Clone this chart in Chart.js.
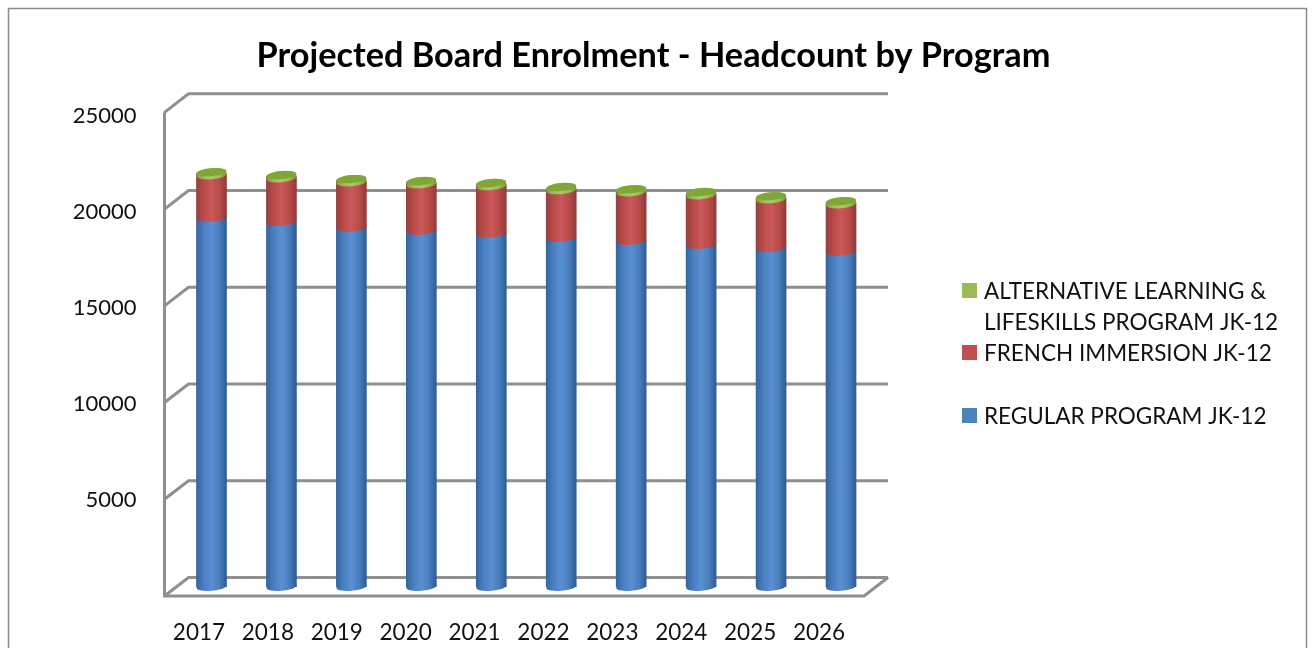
<!DOCTYPE html>
<html>
<head>
<meta charset="utf-8">
<title>Projected Board Enrolment</title>
<script src="https://cdn.jsdelivr.net/npm/chart.js@4"></script>
<style>html,body{margin:0;padding:0;background:#fff;overflow:hidden}canvas{display:block}</style>
</head>
<body>
<canvas id="c" width="1314" height="648"></canvas>
<script>
const categories = ['2017','2018','2019','2020','2021','2022','2023','2024','2025','2026'];
const regularProgram = [19070,18860,18560,18400,18250,18040,17880,17680,17520,17310];
const frenchImmersion = [2200,2260,2350,2410,2460,2460,2510,2560,2510,2460];
const alternativeLearning = [110,110,110,110,110,110,110,110,110,110];
const seriesNames = ['REGULAR PROGRAM JK-12','FRENCH IMMERSION JK-12','ALTERNATIVE LEARNING & LIFESKILLS PROGRAM JK-12'];
const legendLines = [['ALTERNATIVE LEARNING &','LIFESKILLS PROGRAM JK-12'],['FRENCH IMMERSION JK-12'],['REGULAR PROGRAM JK-12']];
const chartTitle = 'Projected Board Enrolment - Headcount by Program';

const FONT = 'Lato, Carlito, sans-serif';
const GRID = '#8f8f8f';
const DEPTH_X = 24, DEPTH_Y = 18.5;
const BAR_W = 30;
const ramps = [
  {flat:'#4F81BD', stops:['#35659f','#4a80c2','#5a90d2','#4a7fbf','#2f5c93']},
  {flat:'#C0504D', stops:['#96403e','#bb4b49','#c9595a','#bc4c4a','#8e3c3a']},
  {flat:'#9BBB59', stops:['#7f9c45','#9cbd57','#aacb64','#9cbd57','#7a9640']}
];

function cylinderFill(i){
  return function(ctx){
    const chart = ctx.chart, sx = chart.scales.x;
    if(!chart.chartArea || !sx || ctx.dataIndex === undefined || ctx.type !== 'data') return ramps[i].flat;
    const cx = sx.getPixelForValue(ctx.dataIndex);
    const g = chart.ctx.createLinearGradient(cx-BAR_W/2,0,cx+BAR_W/2,0);
    const s = ramps[i].stops;
    s.forEach((c,k)=>g.addColorStop(k/(s.length-1),c));
    return g;
  };
}

const wallPlugin = {
  id:'wall',
  beforeDraw(chart){
    const c = chart.ctx;
    c.save();
    c.fillStyle='#fff'; c.fillRect(0,0,chart.width,chart.height);
    c.strokeStyle='#8c8c8c'; c.lineWidth=1.5;
    c.beginPath(); c.moveTo(8.5,chart.height+2); c.lineTo(8.5,8.5); c.lineTo(1306.5,8.5); c.lineTo(1306.5,chart.height+2); c.stroke();
    c.restore();
  },
  afterLayout(chart){
    const t = chart.titleBlock;
    t.left = 0; t.right = 1307;
    const lab = chart.scales.labels;
    lab.left = 164.5; lab.right = 164.5+689;
    lab.configure();
    const yl = chart.scales.yLabels;
    yl.top = 115.5; yl.bottom = 595.5;
    yl.configure();
  },
  beforeDatasetsDraw(chart){
    const c = chart.ctx, {x,y} = chart.scales;
    const l = x.left, r = x.right, t = y.top, b = y.bottom;
    c.save();
    c.strokeStyle = GRID; c.lineWidth = 3; c.lineJoin='miter'; c.lineCap='butt';
    y.ticks.forEach(tk=>{
      const p = y.getPixelForValue(tk.value);
      c.beginPath(); c.moveTo(l,p); c.lineTo(l+DEPTH_X,p-DEPTH_Y); c.lineTo(r+DEPTH_X,p-DEPTH_Y); c.stroke();
    });
    c.beginPath(); c.moveTo(l,t); c.lineTo(l,b); c.lineTo(r,b); c.lineTo(r+DEPTH_X,b-DEPTH_Y); c.stroke();
    c.restore();
    c.save();
    c.translate(DEPTH_X/2,-DEPTH_Y/2);
  },
  afterDatasetsDraw(chart){
    const c = chart.ctx;
    const tilt = -5*Math.PI/180;
    const oval = (el,yy,ry,fill)=>{
      c.fillStyle = fill;
      c.beginPath(); c.ellipse(el.x,yy,el.width/2,ry,tilt,0,Math.PI*2); c.fill();
    };
    [0,1,2].forEach(i=>{
      chart.getDatasetMeta(i).data.forEach(el=>{
        oval(el,el.base,4,el.options.backgroundColor);
      });
    });
    chart.getDatasetMeta(2).data.forEach(el=>{
      oval(el,el.y,5,el.options.backgroundColor);
      oval(el,el.y-1,4,'#7ea735');
    });
    c.restore();
  },
  afterDraw(chart){
    const c = chart.ctx;
    const colors = [ramps[2].flat,ramps[1].flat,ramps[0].flat];
    const rows = [[292,323],[354],[417]];
    c.save();
    c.font = '22.5px '+FONT; c.textBaseline='middle'; c.textAlign='left';
    legendLines.forEach((lines,i)=>{
      c.fillStyle = colors[i];
      c.fillRect(962,rows[i][0]-9,15,15);
      c.fillStyle = '#111';
      lines.forEach((s,k)=>c.fillText(s,984,rows[i][k]));
    });
    c.restore();
  }
};

const common = {stack:'s', barThickness:BAR_W, clip:false, borderWidth:0, xAxisID:'x', yAxisID:'y'};
new Chart(document.getElementById('c'),{
  type:'bar',
  plugins:[wallPlugin],
  data:{
    labels:categories,
    datasets:[
      {label:seriesNames[0], data:regularProgram, backgroundColor:cylinderFill(0), ...common},
      {label:seriesNames[1], data:frenchImmersion, backgroundColor:cylinderFill(1), ...common},
      {label:seriesNames[2], data:alternativeLearning, backgroundColor:cylinderFill(2), ...common}
    ]
  },
  options:{
    responsive:false, animation:false, events:[],
    layout:{padding:{left:0,right:450,top:0,bottom:0}},
    plugins:{
      legend:{display:false}, tooltip:{enabled:false},
      title:{display:true,text:chartTitle,color:'#000',padding:{top:35,bottom:36.2},
        font:{family:FONT,size:34.3,weight:'bold',lineHeight:1.2}}
    },
    scales:{
      x:{type:'category',display:false,stacked:true,offset:true,position:'bottom'},
      labels:{type:'category',axis:'x',labels:categories,position:'bottom',offset:true,
        grid:{display:false},border:{display:false},
        ticks:{color:'#111',font:{family:FONT,size:22.5},padding:15,maxRotation:0,autoSkip:false},
        afterFit(s){s.height=52;}},
      y:{stacked:true,display:false,min:0,max:25000,position:'left',ticks:{stepSize:5000}},
      yLabels:{type:'linear',axis:'y',min:0,max:25000,position:'left',
        grid:{display:false},border:{display:false},
        ticks:{stepSize:5000,color:'#111',font:{family:FONT,size:22},padding:20,
          callback:v=>v===0?'':String(v)},
        afterFit(s){s.width=164.5;}}
    }
  }
});
</script>
</body>
</html>
